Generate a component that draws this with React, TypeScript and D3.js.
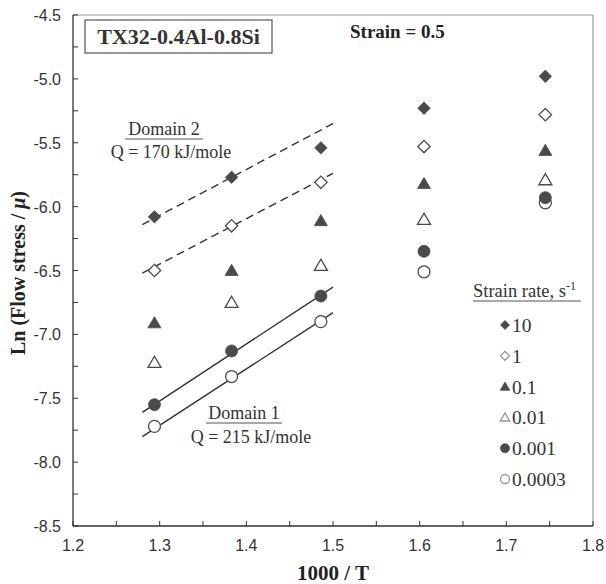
import React from "react";
import * as d3 from "d3";

// 1000/T columns and Ln(flow stress / mu) per strain rate
const invTemps = [1.294, 1.383, 1.486, 1.605, 1.745];
const rateLabels = ["10", "1", "0.1", "0.01", "0.001", "0.0003"];
const rate10 = [-6.08, -5.77, -5.54, -5.23, -4.98];
const rate1 = [-6.5, -6.15, -5.81, -5.53, -5.28];
const rate01 = [-6.91, -6.5, -6.11, -5.82, -5.56];
const rate001 = [-7.22, -6.75, -6.46, -6.1, -5.79];
const rate0001 = [-7.55, -7.13, -6.7, -6.35, -5.93];
const rate00003 = [-7.72, -7.33, -6.9, -6.51, -5.97];

// fitted lines (end points)
const fitX = [1.28, 1.5];
const fit10 = [-6.14, -5.35];
const fit1 = [-6.52, -5.74];
const fit0001 = [-7.61, -6.63];
const fit00003 = [-7.8, -6.83];

const xTicks = [1.2, 1.3, 1.4, 1.5, 1.6, 1.7, 1.8];
const yTicks = [-8.5, -8.0, -7.5, -7.0, -6.5, -6.0, -5.5, -5.0, -4.5];

const serif = "'Liberation Serif', 'Times New Roman', serif";
const sans = "'Liberation Sans', Arial, sans-serif";
const dark = "#4a4a4a";

const margin = { top: 15, right: 13, bottom: 58, left: 73 };
const W = 606;
const H = 584;

type Kind = "diamond" | "triangle" | "circle";

const series: { label: string; values: number[]; kind: Kind; filled: boolean }[] = [
  { label: rateLabels[0], values: rate10, kind: "diamond", filled: true },
  { label: rateLabels[1], values: rate1, kind: "diamond", filled: false },
  { label: rateLabels[2], values: rate01, kind: "triangle", filled: true },
  { label: rateLabels[3], values: rate001, kind: "triangle", filled: false },
  { label: rateLabels[4], values: rate0001, kind: "circle", filled: true },
  { label: rateLabels[5], values: rate00003, kind: "circle", filled: false },
];

const fits = [
  { values: fit10, dashed: true },
  { values: fit1, dashed: true },
  { values: fit0001, dashed: false },
  { values: fit00003, dashed: false },
];

const Marker = ({ kind, filled, s, cx, cy, legend }: any) => {
  const fill = filled ? dark : "#fff";
  const stroke = legend && !filled ? "#999" : dark;
  const sw = filled ? 0.8 : 1.3;
  if (kind === "circle") {
    return <circle cx={cx} cy={cy} r={s} fill={fill} stroke={stroke} strokeWidth={sw} />;
  }
  let d = "";
  if (kind === "diamond") {
    d = `M0,${-s}L${s},0L0,${s}L${-s},0Z`;
  } else {
    d = `M0,${-s}L${s * 1.05},${s * 0.8}L${-s * 1.05},${s * 0.8}Z`;
  }
  return (
    <path d={d} transform={`translate(${cx},${cy})`} fill={fill} stroke={stroke} strokeWidth={sw} />
  );
};

export default function App() {
  const width = W - margin.left - margin.right;
  const height = H - margin.top - margin.bottom;

  const x = d3.scaleLinear().domain([1.2, 1.8]).range([0, width]);
  const y = d3.scaleLinear().domain([-8.5, -4.5]).range([height, 0]);

  const line = d3
    .line<number>()
    .x((_, i) => x(fitX[i]))
    .y((d) => y(d));

  const xMinor = d3.range(1.2, 1.8001, 0.05);
  const yMinor = d3.range(-8.5, -4.4999, 0.25);

  const legendX = 505;
  const legendY0 = 325;
  const legendStep = 30.8;

  return (
    <svg
      width={W}
      height={H}
      style={{ position: "absolute", left: 0, top: 0, background: "#fff" }}
    >
      <g transform={`translate(${margin.left},${margin.top})`}>
        {/* frame */}
        <line x1={0} x2={width} y1={0} y2={0} stroke="#999" strokeWidth={1.2} />
        <line x1={width} x2={width} y1={0} y2={height} stroke="#999" strokeWidth={1.2} />
        <line x1={0} x2={0} y1={0} y2={height} stroke="#333" strokeWidth={1.3} />
        <line x1={0} x2={width} y1={height} y2={height} stroke="#333" strokeWidth={1.3} />

        {xMinor.map((t, i) => (
          <line key={"xt" + i} x1={x(t)} x2={x(t)} y1={height} y2={height - 5} stroke="#333" />
        ))}
        {yMinor.map((t, i) => (
          <line key={"yt" + i} x1={0} x2={5} y1={y(t)} y2={y(t)} stroke="#333" />
        ))}

        {xTicks.map((t) => (
          <text
            key={"xl" + t}
            x={x(t)}
            y={height + 25}
            textAnchor="middle"
            fontFamily={sans}
            fontSize={16}
            fill="#333"
          >
            {t.toFixed(1)}
          </text>
        ))}
        {yTicks.map((t) => (
          <text
            key={"yl" + t}
            x={-12}
            y={y(t) + 6}
            textAnchor="end"
            fontFamily={sans}
            fontSize={16}
            fill="#333"
          >
            {t.toFixed(1)}
          </text>
        ))}

        {/* fit lines */}
        {fits.map((f, i) => (
          <path
            key={"fit" + i}
            d={line(f.values) || ""}
            fill="none"
            stroke="#333"
            strokeWidth={1.4}
            strokeDasharray={f.dashed ? "8,5" : undefined}
          />
        ))}

        {/* points */}
        {[...series].reverse().map((s) =>
          s.values.map((v, i) => (
            <Marker
              key={s.label + i}
              kind={s.kind}
              filled={s.filled}
              s={s.kind === "circle" ? 6 : 6.2}
              cx={x(invTemps[i])}
              cy={y(v)}
            />
          ))
        )}
      </g>

      {/* title box */}
      <rect x={85} y={20} width={187} height={33} fill="#fff" stroke="#555" strokeWidth={1.2} />
      <text x={178.5} y={44} textAnchor="middle" fontFamily={serif} fontWeight="bold" fontSize={22} fill="#333">
        TX32-0.4Al-0.8Si
      </text>
      <text x={350} y={38} fontFamily={serif} fontWeight="bold" fontSize={19} fill="#222">
        Strain = 0.5
      </text>

      {/* domain annotations */}
      <text x={164} y={135} textAnchor="middle" fontFamily={serif} fontSize={18} fill="#333">
        Domain 2
      </text>
      <line x1={125} x2={203} y1={139} y2={139} stroke="#555" strokeWidth={1} />
      <text x={171} y={158} textAnchor="middle" fontFamily={serif} fontSize={18} fill="#333">
        Q = 170 kJ/mole
      </text>
      <text x={244} y={419} textAnchor="middle" fontFamily={serif} fontSize={18} fill="#333">
        Domain 1
      </text>
      <line x1={206} x2={282} y1={423} y2={423} stroke="#555" strokeWidth={1} />
      <text x={251} y={443} textAnchor="middle" fontFamily={serif} fontSize={18} fill="#333">
        Q = 215 kJ/mole
      </text>

      {/* legend */}
      <text x={473} y={297} fontFamily={serif} fontSize={18.5} fill="#333">
        Strain rate, s
        <tspan dy={-7} fontSize={12}>
          -1
        </tspan>
      </text>
      <line x1={473} x2={581} y1={301} y2={301} stroke="#555" strokeWidth={1} />
      {series.map((s, i) => (
        <g key={"lg" + s.label}>
          <Marker
            kind={s.kind}
            filled={s.filled}
            s={4.5}
            cx={legendX}
            cy={legendY0 + i * legendStep}
            legend
          />
          <text
            x={legendX + 7}
            y={legendY0 + i * legendStep + 7}
            fontFamily={serif}
            fontSize={19.5}
            fill="#333"
          >
            {s.label}
          </text>
        </g>
      ))}

      {/* axis titles */}
      <text
        x={333}
        y={580}
        textAnchor="middle"
        fontFamily={serif}
        fontWeight="bold"
        fontSize={21}
        fill="#222"
      >
        1000 / T
      </text>
      <text
        transform="translate(25,273) rotate(-90)"
        textAnchor="middle"
        fontFamily={serif}
        fontWeight="bold"
        fontSize={20}
        fill="#222"
      >
        Ln (Flow stress / <tspan fontStyle="italic">μ</tspan>)
      </text>
    </svg>
  );
}
